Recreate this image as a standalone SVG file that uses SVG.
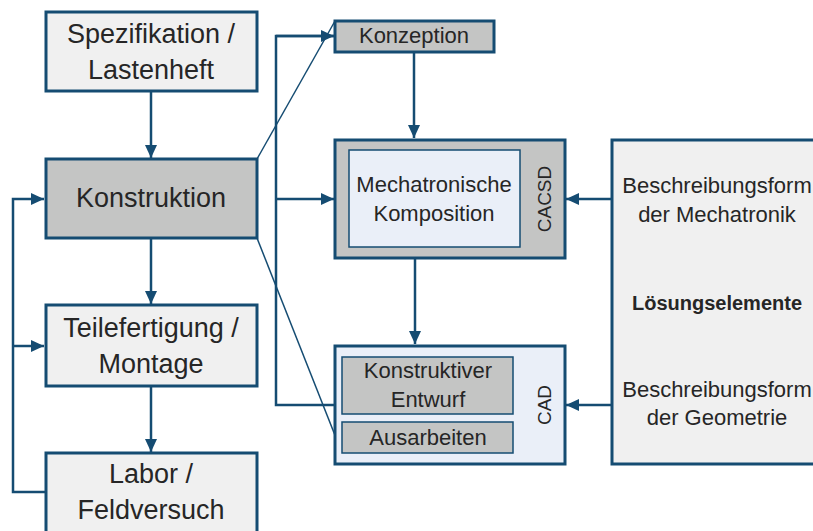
<svg xmlns="http://www.w3.org/2000/svg" width="813" height="531" viewBox="0 0 813 531">
  <style>
    .box { stroke: #154c72; stroke-width: 3; }
    .thin { stroke: #154c72; stroke-width: 1.5; }
    .gray { fill: #c4c5c4; }
    .light { fill: #f0f0f0; }
    .blue { fill: #eaeff8; }
    .lbl { font-family: "Liberation Sans", Arial, sans-serif; fill: #262626; text-anchor: middle; }
    .big { font-size: 27px; }
    .mid { font-size: 22px; }
    .conn { fill: none; stroke: #154c72; stroke-width: 2.5; }
    .diag { fill: none; stroke: #154c72; stroke-width: 1.5; }
  </style>
  <defs>
    <marker id="arrow" markerUnits="userSpaceOnUse" markerWidth="14" markerHeight="14" viewBox="0 0 14 14" refX="13" refY="7" orient="auto">
      <path d="M0,1 L13,7 L0,13 Z" fill="#154c72"/>
    </marker>
  </defs>

  <rect width="813" height="531" fill="#ffffff"/>

  <!-- connectors -->
  <g id="connectors">
    <!-- main chain on the left -->
    <line class="conn" x1="151" y1="91" x2="151" y2="158" marker-end="url(#arrow)"/>
    <line class="conn" x1="151" y1="238" x2="151" y2="304" marker-end="url(#arrow)"/>
    <line class="conn" x1="151" y1="386" x2="151" y2="452" marker-end="url(#arrow)"/>
    <!-- feedback loop -->
    <polyline class="conn" points="45,492 13,492 13,199 44,199" marker-end="url(#arrow)"/>
    <line class="conn" x1="13" y1="346" x2="44" y2="346" marker-end="url(#arrow)"/>
    <!-- distribution bus to the right -->
    <polyline class="conn" points="334,36 276,36 276,405 335,405"/>
    <line class="conn" x1="276" y1="36" x2="334" y2="36" marker-end="url(#arrow)"/>
    <line class="conn" x1="276" y1="199" x2="334" y2="199" marker-end="url(#arrow)"/>
    <!-- vertical flow on the right -->
    <line class="conn" x1="414" y1="52" x2="414" y2="138" marker-end="url(#arrow)"/>
    <line class="conn" x1="415" y1="258" x2="415" y2="344" marker-end="url(#arrow)"/>
    <!-- solution elements feeding in -->
    <line class="conn" x1="612" y1="199" x2="566" y2="199" marker-end="url(#arrow)"/>
    <line class="conn" x1="612" y1="405" x2="566" y2="405" marker-end="url(#arrow)"/>
    <!-- zoom lines -->
    <line class="diag" x1="257" y1="159" x2="335" y2="21"/>
    <line class="diag" x1="257" y1="238" x2="342" y2="453"/>
  </g>

  <g id="spezifikation">
    <rect class="box light" x="46" y="12" width="211" height="79"/>
    <text class="lbl big" x="151" y="43">Spezifikation /</text>
    <text class="lbl big" x="151" y="79">Lastenheft</text>
  </g>

  <g id="konstruktion">
    <rect class="box gray" x="46" y="159" width="211" height="79"/>
    <text class="lbl big" x="151" y="207">Konstruktion</text>
  </g>

  <g id="teilefertigung">
    <rect class="box light" x="46" y="305" width="211" height="81"/>
    <text class="lbl big" x="151" y="337">Teilefertigung /</text>
    <text class="lbl big" x="151" y="373">Montage</text>
  </g>

  <g id="labor">
    <rect class="box light" x="46" y="453" width="211" height="90"/>
    <text class="lbl big" x="151" y="483">Labor /</text>
    <text class="lbl big" x="151" y="519">Feldversuch</text>
  </g>

  <g id="konzeption">
    <rect class="box gray" x="335" y="21" width="159" height="31"/>
    <text class="lbl mid" x="414" y="43">Konzeption</text>
  </g>

  <g id="cacsd">
    <rect class="box gray" x="335" y="140" width="230" height="118"/>
    <rect class="thin blue" x="349" y="150" width="171" height="97"/>
    <text class="lbl mid" x="434" y="192">Mechatronische</text>
    <text class="lbl mid" x="434" y="221">Komposition</text>
    <text class="lbl" font-size="19" transform="translate(551,199) rotate(-90)">CACSD</text>
  </g>

  <g id="cad">
    <rect class="box blue" x="335" y="346" width="230" height="118"/>
    <rect class="thin gray" x="342" y="357" width="171" height="57"/>
    <text class="lbl mid" x="428" y="378">Konstruktiver</text>
    <text class="lbl mid" x="428" y="407">Entwurf</text>
    <rect class="thin gray" x="342" y="422" width="171" height="31"/>
    <text class="lbl mid" x="428" y="445">Ausarbeiten</text>
    <text class="lbl" font-size="19" transform="translate(551,405) rotate(-90)">CAD</text>
  </g>

  <g id="loesungselemente">
    <rect class="box light" x="612" y="140" width="220" height="324"/>
    <text class="lbl mid" x="717" y="193">Beschreibungsform</text>
    <text class="lbl mid" x="717" y="222">der Mechatronik</text>
    <text class="lbl" x="717" y="310" font-size="20" font-weight="bold">Lösungselemente</text>
    <text class="lbl mid" x="717" y="397">Beschreibungsform</text>
    <text class="lbl mid" x="717" y="425">der Geometrie</text>
  </g>
</svg>
